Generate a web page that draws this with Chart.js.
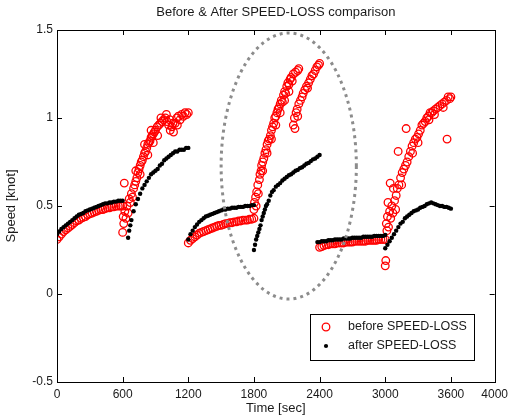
<!DOCTYPE html>
<html><head><meta charset="utf-8">
<script src="https://cdn.jsdelivr.net/npm/chart.js@4.4.1/dist/chart.umd.min.js"></script>
<style>html,body{margin:0;padding:0;background:#fff}canvas{display:block}</style>
</head><body>
<canvas id="c" width="513" height="419"></canvas>
<script>
const chartTitle = 'Before & After SPEED-LOSS comparison';
const xAxisTitle = 'Time [sec]';
const yAxisTitle = 'Speed [knot]';
const seriesNames = ['before SPEED-LOSS', 'after SPEED-LOSS'];
const xTicks = [0, 600, 1200, 1800, 2400, 3000, 3600, 4000];
const yTicks = [-0.5, 0, 0.5, 1, 1.5];

// "before SPEED-LOSS" (red circles)
const beforeTime = [
  0,20,40,60,80,100,120,140,160,180,200,220,240,260,280,300,320,340,360,380,400,420,440,460,480,500,520,540,560,580,600,
  600,605,610,615,620,630,640,650,660,670,680,690,700,710,720,730,740,750,760,770,780,790,800,810,820,830,840,850,860,870,
  880,890,900,915,930,945,960,975,990,1005,1020,1035,1050,1065,1080,1095,1110,1125,1140,1155,1170,1185,1200,
  720,760,800,830,860,880,920,950,1000,1030,1060,1100,
  1200,1220,1240,1260,1280,1300,1320,1340,1360,1380,1400,1420,1440,1460,1480,1500,1520,1540,1560,1580,1600,1620,1640,1660,1680,1700,1720,1740,1760,1780,1800,
  1800,1805,1815,1820,1825,1835,1840,1850,1855,1865,1870,1880,1890,1900,1910,1920,1930,1940,1950,1960,1970,1980,1990,2000,2010,2020,2030,2040,2050,2060,
  2070,2080,2090,2100,2110,2120,2130,2140,2160,2180,2200,2210,
  1880,1920,1960,2000,2040,2080,2120,2150,
  2160,2170,2175,2185,2195,2200,2210,2225,2240,2250,2265,2280,2290,2300,2315,2330,2345,2360,2375,2390,2400,
  2400,2420,2440,2460,2480,2500,2520,2540,2560,2580,2600,2620,2640,2660,2680,2700,2720,2740,2760,2780,2800,2820,2840,2860,2880,2900,2920,2940,2960,2980,3000,
  3000,3005,3010,3015,3020,3025,3030,3040,3045,3050,3060,3070,3075,3085,3095,3100,3110,3118,3125,3140,3155,3170,3185,3191,3200,3215,3230,3245,3260,3275,
  3290,3305,3320,3335,3350,3365,3380,3395,3410,3425,3440,3460,3480,3500,3520,3540,3560,3565,3575,3590,3600,
  3150,3250,3300,3400,3450,3530
];
const beforeSpeed = [
  0.31,0.325,0.34,0.355,0.365,0.375,0.385,0.395,0.405,0.415,0.42,0.43,0.435,0.44,0.45,0.455,0.46,0.465,0.47,0.475,0.48,0.48,0.485,0.49,0.49,0.495,0.495,0.5,0.5,0.5,0.5,
  0.35,0.44,0.40,0.63,0.47,0.43,0.50,0.46,0.54,0.52,0.57,0.55,0.60,0.62,0.64,0.66,0.69,0.71,0.73,0.75,0.76,0.78,0.80,0.81,0.83,0.85,0.86,0.87,0.89,0.90,
  0.91,0.92,0.93,0.95,0.96,0.97,0.98,0.99,1.00,0.98,0.96,0.93,0.95,0.92,0.97,1.00,1.01,0.99,1.02,1.01,1.03,1.02,1.03,
  0.70,0.68,0.85,0.79,0.93,0.86,0.90,1.00,1.02,0.99,0.97,0.96,
  0.29,0.305,0.315,0.325,0.335,0.345,0.35,0.355,0.36,0.365,0.37,0.375,0.38,0.385,0.39,0.39,0.395,0.40,0.40,0.405,0.405,0.41,0.41,0.415,0.415,0.42,0.42,0.42,0.425,0.425,0.43,
  0.48,0.52,0.55,0.50,0.58,0.62,0.57,0.65,0.68,0.70,0.73,0.75,0.77,0.80,0.82,0.85,0.87,0.88,0.90,0.93,0.95,0.97,1.00,1.01,1.03,1.05,1.06,1.08,1.10,1.09,
  1.13,1.15,1.14,1.18,1.20,1.19,1.22,1.23,1.25,1.26,1.27,1.28,
  0.70,0.80,0.88,0.96,1.03,1.10,1.15,1.21,
  0.96,1.00,0.94,1.03,1.05,1.01,1.08,1.10,1.12,1.14,1.16,1.18,1.17,1.20,1.22,1.24,1.25,1.27,1.29,1.30,1.31,
  0.265,0.27,0.275,0.28,0.28,0.285,0.285,0.285,0.29,0.29,0.29,0.29,0.295,0.295,0.295,0.295,0.30,0.30,0.30,0.30,0.30,0.30,0.305,0.305,0.305,0.305,0.305,0.31,0.31,0.31,0.31,
  0.16,0.19,0.40,0.36,0.44,0.52,0.38,0.47,0.63,0.43,0.50,0.46,0.60,0.53,0.48,0.56,0.60,0.81,0.62,0.66,0.69,0.71,0.73,0.94,0.75,0.78,0.81,0.84,0.86,0.88,
  0.89,0.91,0.93,0.96,0.97,0.98,1.00,1.01,1.03,1.03,1.04,1.05,1.06,1.07,1.08,1.09,1.10,0.88,1.12,1.11,1.12,
  0.62,0.80,0.86,0.99,1.02,1.06
];

// "after SPEED-LOSS" (black dots)
const afterTime = [
  0,20,40,60,80,100,120,140,160,180,200,220,240,260,280,300,320,340,360,380,400,420,440,460,480,500,520,540,560,580,600,
  650,660,670,680,700,720,740,760,780,800,820,840,860,880,900,920,940,960,980,1000,1020,1040,1060,1080,1100,1120,1140,1160,1180,1200,
  1200,1220,1240,1260,1280,1300,1320,1340,1360,1380,1400,1420,1440,1460,1480,1500,1520,1540,1560,1580,1600,1620,1640,1660,1680,1700,1720,1740,1760,1780,1800,
  1800,1810,1820,1830,1840,1850,1860,1870,1880,1890,1900,1910,1920,1935,1950,1965,1980,2000,2020,2040,2060,2080,2100,2120,2140,2160,2180,2200,2220,2240,2260,2280,2300,2320,2340,2360,2380,2400,
  2380,2400,2420,2440,2460,2480,2500,2520,2540,2560,2580,2600,2620,2640,2660,2680,2700,2720,2740,2760,2780,2800,2820,2840,2860,2880,2900,2920,2940,2960,2980,3000,
  3000,3020,3040,3060,3080,3100,3120,3140,3160,3180,3200,3220,3240,3260,3280,3300,3320,3340,3360,3380,3400,3420,3440,3460,3480,3500,3520,3540,3560,3580,3600
];
const afterSpeed = [
  0.34,0.355,0.37,0.38,0.39,0.40,0.41,0.42,0.43,0.44,0.45,0.455,0.46,0.47,0.475,0.48,0.485,0.49,0.495,0.50,0.505,0.51,0.515,0.515,0.52,0.52,0.525,0.525,0.53,0.53,0.53,
  0.32,0.36,0.39,0.42,0.47,0.51,0.54,0.57,0.60,0.62,0.64,0.66,0.68,0.69,0.70,0.71,0.73,0.74,0.76,0.77,0.78,0.79,0.80,0.81,0.81,0.82,0.82,0.82,0.83,0.83,
  0.31,0.34,0.36,0.38,0.395,0.41,0.42,0.43,0.44,0.445,0.45,0.455,0.46,0.465,0.47,0.475,0.48,0.48,0.485,0.485,0.49,0.49,0.49,0.495,0.495,0.495,0.50,0.50,0.50,0.505,0.505,
  0.25,0.28,0.31,0.33,0.35,0.37,0.39,0.42,0.44,0.46,0.48,0.50,0.51,0.53,0.56,0.58,0.59,0.61,0.62,0.63,0.645,0.655,0.665,0.675,0.68,0.69,0.70,0.705,0.715,0.72,0.73,0.74,0.745,0.755,0.765,0.77,0.78,0.79,
  0.295,0.295,0.30,0.30,0.30,0.305,0.305,0.305,0.31,0.31,0.31,0.31,0.315,0.315,0.315,0.315,0.32,0.32,0.32,0.32,0.32,0.325,0.325,0.325,0.325,0.325,0.33,0.33,0.33,0.33,0.33,0.335,
  0.26,0.28,0.30,0.32,0.34,0.36,0.38,0.40,0.41,0.43,0.44,0.45,0.46,0.47,0.475,0.48,0.49,0.495,0.50,0.51,0.515,0.52,0.515,0.51,0.505,0.50,0.50,0.495,0.495,0.49,0.485
];

// dotted ellipse annotation (data units)
const ellipseCenter = [2118, 0.727];
const ellipseRadius = [618, 0.756];

const FONT = '"Liberation Sans", Arial, sans-serif';
const TXT = '#1a1a1a';

const beforeData = beforeTime.map((t, i) => ({x: t, y: beforeSpeed[i]}));
const afterData = afterTime.map((t, i) => ({x: t, y: afterSpeed[i]}));

const decorPlugin = {
  id: 'decor',
  afterDatasetsDraw(chart) {
    const ctx = chart.ctx, xs = chart.scales.x, ys = chart.scales.y;
    const cx = xs.getPixelForValue(ellipseCenter[0]);
    const cy = ys.getPixelForValue(ellipseCenter[1]);
    const rx = Math.abs(xs.getPixelForValue(ellipseCenter[0] + ellipseRadius[0]) - cx);
    const ry = Math.abs(ys.getPixelForValue(ellipseCenter[1] + ellipseRadius[1]) - cy);
    ctx.save();
    ctx.strokeStyle = '#8c8c8c';
    ctx.lineWidth = 3;
    ctx.setLineDash([3, 4]);
    ctx.beginPath();
    ctx.ellipse(cx, cy, rx, ry, 0, 0, Math.PI * 2);
    ctx.stroke();
    ctx.restore();
  },
  afterDraw(chart) {
    const ctx = chart.ctx, a = chart.chartArea, xs = chart.scales.x, ys = chart.scales.y;
    ctx.save();
    ctx.strokeStyle = '#000';
    ctx.lineWidth = 1;
    ctx.strokeRect(Math.round(a.left) + 0.5, Math.round(a.top) + 0.5, Math.round(a.right - a.left), Math.round(a.bottom - a.top));
    const tl = 5;
    ctx.beginPath();
    xTicks.forEach(v => {
      const px = Math.round(xs.getPixelForValue(v)) + 0.5;
      ctx.moveTo(px, a.bottom); ctx.lineTo(px, a.bottom - tl);
      ctx.moveTo(px, a.top); ctx.lineTo(px, a.top + tl);
    });
    yTicks.forEach(v => {
      const py = Math.round(ys.getPixelForValue(v)) + 0.5;
      ctx.moveTo(a.left, py); ctx.lineTo(a.left + tl, py);
      ctx.moveTo(a.right, py); ctx.lineTo(a.right - tl, py);
    });
    ctx.stroke();
    ctx.fillStyle = TXT;
    ctx.font = '13px ' + FONT;
    ctx.textAlign = 'center';
    ctx.textBaseline = 'middle';
    ctx.fillText(chartTitle, (a.left + a.right) / 2, 12);
    const lw = 164, lh = 46;
    const lx = Math.round(a.right - 21 - lw), ly = Math.round(a.bottom - 22 - lh);
    ctx.fillStyle = '#fff';
    ctx.fillRect(lx, ly, lw, lh);
    ctx.strokeStyle = '#000';
    ctx.strokeRect(lx + 0.5, ly + 0.5, lw, lh);
    const r1 = ly + 13, r2 = ly + 32;
    ctx.beginPath();
    ctx.strokeStyle = '#ff0000';
    ctx.lineWidth = 1.3;
    ctx.arc(lx + 16, r1, 3.8, 0, Math.PI * 2);
    ctx.stroke();
    ctx.beginPath();
    ctx.fillStyle = '#000';
    ctx.arc(lx + 16, r2, 2.1, 0, Math.PI * 2);
    ctx.fill();
    ctx.fillStyle = TXT;
    ctx.font = '12.5px ' + FONT;
    ctx.textAlign = 'left';
    ctx.fillText(seriesNames[0], lx + 38, r1);
    ctx.fillText(seriesNames[1], lx + 38, r2);
    ctx.restore();
  }
};

new Chart(document.getElementById('c'), {
  type: 'scatter',
  data: {
    datasets: [
      {label: seriesNames[0], data: beforeData, order: 2, pointStyle: 'circle', pointRadius: 3.8, pointHoverRadius: 3.8,
       borderWidth: 1.3, borderColor: '#ff0000', backgroundColor: 'rgba(0,0,0,0)'},
      {label: seriesNames[1], data: afterData, order: 1, pointStyle: 'circle', pointRadius: 2.2, pointHoverRadius: 2.2,
       borderWidth: 0, borderColor: '#000', backgroundColor: '#000'}
    ]
  },
  options: {
    responsive: false, animation: false, devicePixelRatio: 1, events: [],
    layout: {padding: {top: 30, right: 16, left: 0, bottom: 0}},
    plugins: {legend: {display: false}, title: {display: false}, tooltip: {enabled: false}},
    scales: {
      x: {
        type: 'linear', min: 0, max: 4000,
        afterBuildTicks: s => { s.ticks = xTicks.map(v => ({value: v})); },
        afterFit: s => { s.height = 37; },
        ticks: {callback: v => String(v), autoSkip: false, maxRotation: 0, padding: 5, color: TXT, font: {family: FONT, size: 12}},
        grid: {display: false, drawTicks: false},
        border: {display: false},
        title: {display: true, text: xAxisTitle, color: TXT, font: {family: FONT, size: 13}, padding: {top: 0, bottom: 3}}
      },
      y: {
        type: 'linear', min: -0.5, max: 1.5,
        afterBuildTicks: s => { s.ticks = yTicks.map(v => ({value: v})); },
        afterFit: s => { s.width = 57; },
        ticks: {callback: v => String(v), autoSkip: false, padding: 4, color: TXT, font: {family: FONT, size: 12}},
        grid: {display: false, drawTicks: false},
        border: {display: false},
        title: {display: true, text: yAxisTitle, color: TXT, font: {family: FONT, size: 13}, padding: {top: 4, bottom: 0}}
      }
    }
  },
  plugins: [decorPlugin]
});
</script>
</body></html>
